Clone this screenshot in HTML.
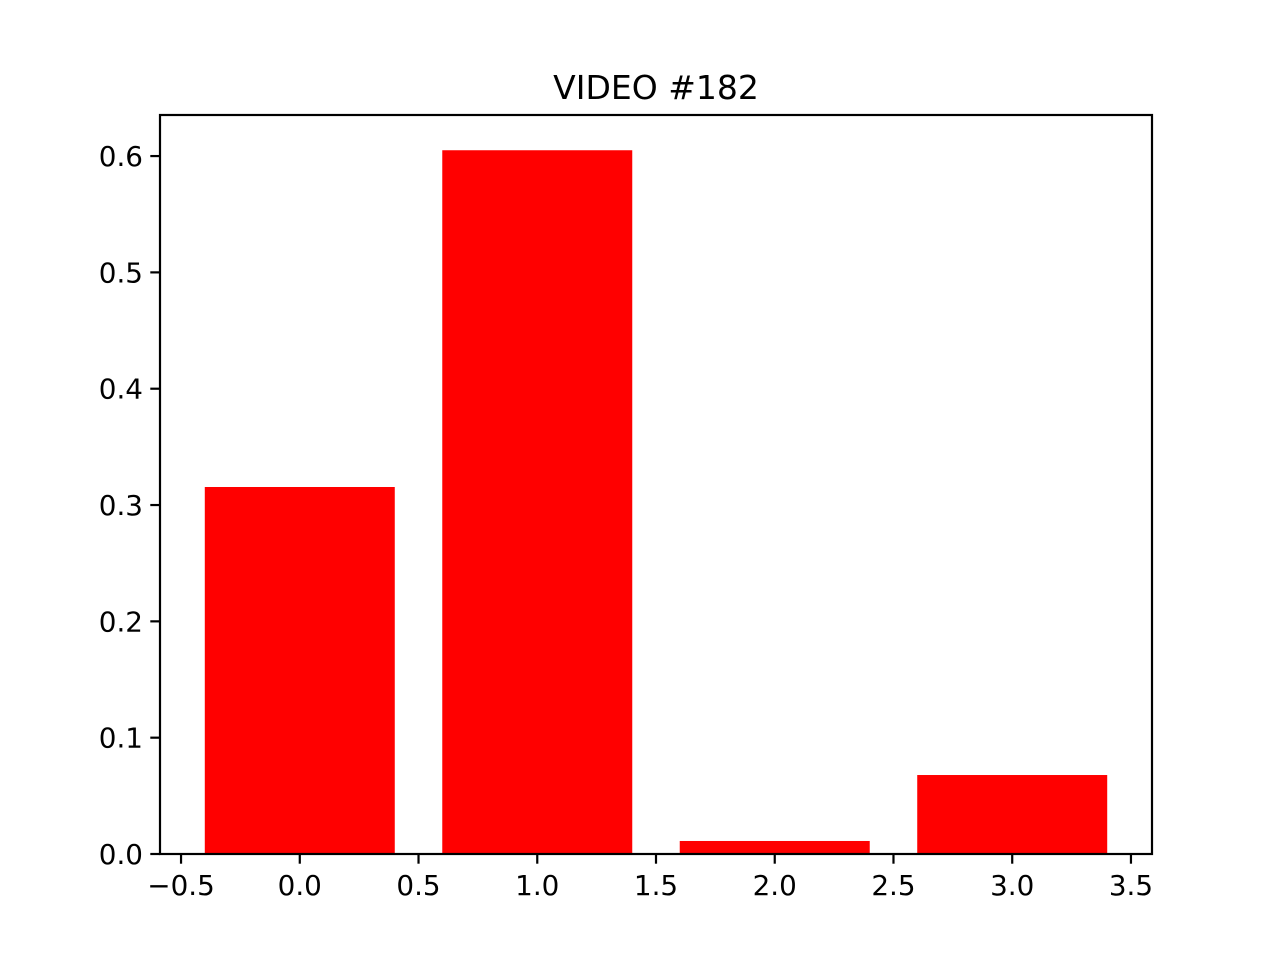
<!DOCTYPE html>
<html><head><meta charset="utf-8"><style>
html,body{margin:0;padding:0;background:#fff;}
svg{display:block;}
text{font-family:"DejaVu Sans","Liberation Sans",sans-serif;fill:#000;}
</style></head><body>
<svg id="chart" width="1280" height="960" viewBox="0 0 1280 960">
<rect width="1280" height="960" fill="#fff"/>
<text x="656" y="99" font-size="33" text-anchor="middle">VIDEO #182</text>
<g id="bars"></g>
<g id="xticks"></g>
<g id="yticks"></g>
<rect x="160" y="115" width="992" height="739" fill="none" stroke="#000" stroke-width="2.2"/>
</svg>
<script>
const categories = [0, 1, 2, 3];
const values = [0.3155, 0.605, 0.0112, 0.0679];
const xTickLabels = [-0.5, 0.0, 0.5, 1.0, 1.5, 2.0, 2.5, 3.0, 3.5];
const yTickLabels = [0.0, 0.1, 0.2, 0.3, 0.4, 0.5, 0.6];

const L=160,R=1152,T=115,B=854;
const xmin=-0.5886,xmax=3.5886,ymin=0,ymax=0.6353;
const sx=v=>L+(v-xmin)/(xmax-xmin)*(R-L);
const sy=v=>B-(v-ymin)/(ymax-ymin)*(B-T);
const NS="http://www.w3.org/2000/svg";
const bars=document.getElementById('bars');
categories.forEach((c,i)=>{
  const r=document.createElementNS(NS,'rect');
  
  
  r.setAttribute('x',sx(c-0.4));
  r.setAttribute('width',sx(c+0.4)-sx(c-0.4));
  r.setAttribute('y',sy(values[i]));
  r.setAttribute('height',sy(0)-sy(values[i]));
  r.setAttribute('fill','#ff0000');
  bars.appendChild(r);
});
const fmt=v=>(v<0?'\u2212':'')+Math.abs(v).toFixed(1);
const xt=document.getElementById('xticks');
xTickLabels.forEach(v=>{
  const x=sx(v);
  const l=document.createElementNS(NS,'line');
  
  
  l.setAttribute('x1',x);l.setAttribute('x2',x);l.setAttribute('y1',B);l.setAttribute('y2',B+9.7);
  l.setAttribute('stroke','#000');l.setAttribute('stroke-width','2.2');
  xt.appendChild(l);
  const t=document.createElementNS(NS,'text');
  
  
  t.setAttribute('x',x);t.setAttribute('y',B+41);
  t.setAttribute('font-size','27.8');t.setAttribute('text-anchor','middle');
  t.textContent=fmt(v);
  xt.appendChild(t);
});
const yt=document.getElementById('yticks');
yTickLabels.forEach(v=>{
  const y=sy(v);
  const l=document.createElementNS(NS,'line');
  
  
  l.setAttribute('x1',L-9.7);l.setAttribute('x2',L);l.setAttribute('y1',y);l.setAttribute('y2',y);
  l.setAttribute('stroke','#000');l.setAttribute('stroke-width','2.2');
  yt.appendChild(l);
  const t=document.createElementNS(NS,'text');
  
  
  t.setAttribute('x',L-17);t.setAttribute('y',y+10);
  t.setAttribute('font-size','27.8');t.setAttribute('text-anchor','end');
  t.textContent=fmt(v);
  yt.appendChild(t);
});
</script>
</body></html>
